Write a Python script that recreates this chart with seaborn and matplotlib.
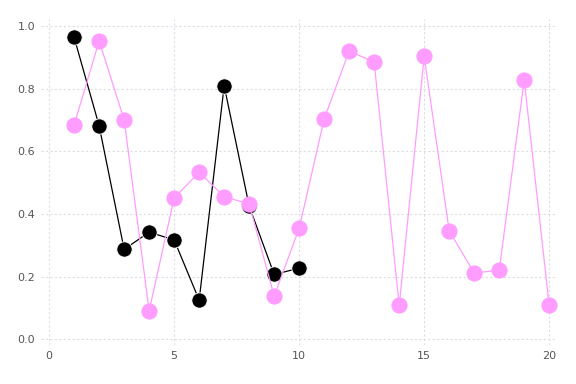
import matplotlib
matplotlib.use("Agg")
import matplotlib.pyplot as plt
import seaborn as sns
import pandas as pd

black_x = [1, 2, 3, 4, 5, 6, 7, 8, 9, 10]
black_y = [0.963, 0.681, 0.287, 0.342, 0.317, 0.125, 0.809, 0.425, 0.207, 0.227]

pink_x = list(range(1, 21))
pink_y = [0.684, 0.952, 0.700, 0.091, 0.451, 0.533, 0.455, 0.432, 0.138, 0.354,
          0.703, 0.920, 0.884, 0.108, 0.903, 0.346, 0.212, 0.220, 0.827, 0.108]

x_ticks = [0, 5, 10, 15, 20]
y_ticks = [0.0, 0.2, 0.4, 0.6, 0.8, 1.0]

sns.set_style("white")
fig = plt.figure(figsize=(5.76, 3.84), dpi=100)
ax = fig.add_axes([0.071, 0.1016, 0.8955, 0.849])

df_b = pd.DataFrame({"x": black_x, "y": black_y})
df_p = pd.DataFrame({"x": pink_x, "y": pink_y})

sns.lineplot(data=df_b, x="x", y="y", ax=ax, color="black", linewidth=0.9,
             marker="o", markersize=11, markeredgecolor="white", markeredgewidth=0.6)
sns.lineplot(data=df_p, x="x", y="y", ax=ax, color="#ff9cff", linewidth=0.9,
             marker="o", markersize=11, markeredgecolor="#ff9cff", markeredgewidth=0.6)

ax.set_xlim(-0.33, 20.3)
ax.set_ylim(-0.018, 1.022)
ax.set_xticks(x_ticks)
ax.set_yticks(y_ticks)
ax.set_xticklabels([str(t) for t in x_ticks])
ax.set_yticklabels([f"{t:.1f}" for t in y_ticks])
ax.set_xlabel("")
ax.set_ylabel("")
for s in ax.spines.values():
    s.set_visible(False)
ax.grid(True, color="#dcdce6", linestyle=(0, (2, 2)), linewidth=0.8)
ax.set_axisbelow(True)
ax.tick_params(axis="both", length=0, labelsize=8, labelcolor="#555555", pad=4)

fig.savefig("out.png", dpi=100)
